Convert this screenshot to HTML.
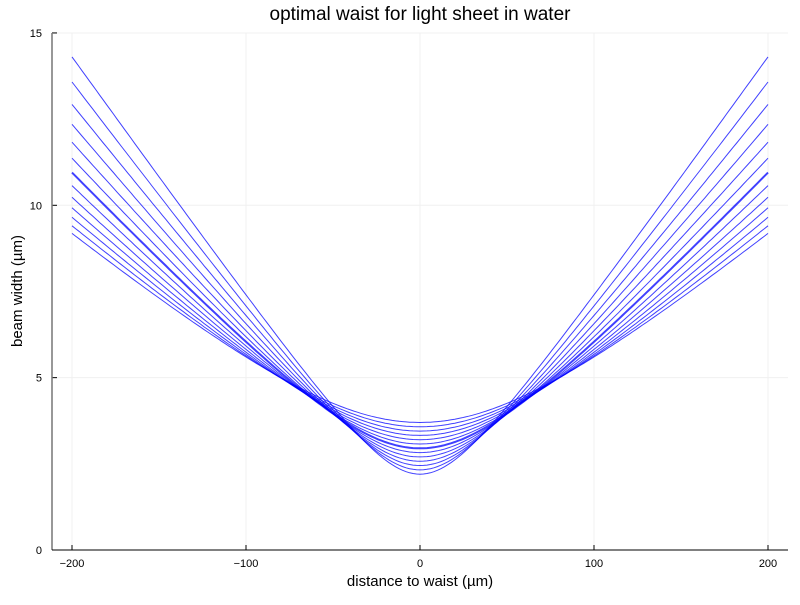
<!DOCTYPE html>
<html><head><meta charset="utf-8"><style>
body{margin:0;background:#fff;font-family:"Liberation Sans",sans-serif}
</style></head><body>
<svg id="c" width="800" height="600">
<rect width="800" height="600" fill="#fff"/>
<text x="420" y="20" text-anchor="middle" font-size="19" fill="#000">optimal waist for light sheet in water</text>
<text x="420" y="586" text-anchor="middle" font-size="15">distance to waist (µm)</text>
<text transform="translate(22,291) rotate(-90)" text-anchor="middle" font-size="15">beam width (µm)</text>
<g id="grid"></g><g id="lines"></g><g id="axes"></g>
</svg>
<script>
const waists=[2.2,2.325,2.45,2.575,2.7,2.825,2.95,3.075,3.2,3.325,3.45,3.575,3.7];
const divergence=[31.1,31.1,31.1,31.1,31.1,31.1,31.1,31.1,31.1,31.1,31.1,31.1,31.1];
const xTicks=[-200,-100,0,100,200];
const xTickLabels=["−200","−100","0","100","200"];
const yTicks=[0,5,10,15];
const xs=v=>420+v*1.74, ys=v=>550-v*34.47;
const NS="http://www.w3.org/2000/svg";
function mk(t,a,p){const e=document.createElementNS(NS,t);for(const k in a)e.setAttribute(k,a[k]);p.appendChild(e);return e;}
const grid=document.getElementById('grid'),lines=document.getElementById('lines'),axes=document.getElementById('axes');
xTicks.forEach((t,i)=>{
 const g=mk('line',{x1:xs(t),x2:xs(t),y1:33,y2:550,stroke:'#f0f0f0','stroke-width':1},grid);
 
 
 mk('line',{x1:xs(t),x2:xs(t),y1:550,y2:545,stroke:'#000'},axes);
 const l=mk('text',{x:xs(t),y:567,'text-anchor':'middle','font-size':11},axes);l.textContent=xTickLabels[i];
 
 
});
yTicks.forEach(t=>{
 const g=mk('line',{x1:52,x2:788,y1:ys(t),y2:ys(t),stroke:'#f0f0f0','stroke-width':1},grid);
 
 
 mk('line',{x1:52,x2:57,y1:ys(t),y2:ys(t),stroke:'#000'},axes);
 const l=mk('text',{x:42,y:ys(t)+4,'text-anchor':'end','font-size':11},axes);l.textContent=t;
 
 
});
mk('line',{x1:52,x2:52,y1:33,y2:550,stroke:'#777','stroke-width':1.5},axes);
mk('line',{x1:52,x2:788,y1:550,y2:550,stroke:'#000'},axes);
waists.forEach((w0,i)=>{
 const k=divergence[i];let d='';
 for(let z=-200;z<=200;z+=2){const w=Math.sqrt(w0*w0+Math.pow(k*z/200/w0,2));d+=(z==-200?'M':'L')+xs(z).toFixed(1)+' '+ys(w).toFixed(1);}
 const p=mk('path',{d:d,fill:'none',stroke:'#0000ff','stroke-opacity':0.75,'stroke-width':i==6?2:1},lines);
 
 
});
</script>
</body></html>
